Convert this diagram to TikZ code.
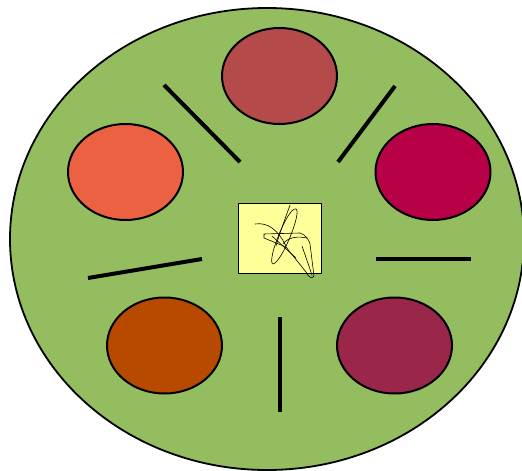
\documentclass[tikz,border=0pt]{standalone}
\usetikzlibrary{shapes.geometric}
\definecolor{bgGreen}{HTML}{93BD5F}
\definecolor{cTop}{HTML}{B54A4A}
\definecolor{cLeft}{HTML}{EC6142}
\definecolor{cRight}{HTML}{B70046}
\definecolor{cBL}{HTML}{B84A00}
\definecolor{cBR}{HTML}{9A264A}
\definecolor{padYellow}{HTML}{FFFF99}
\tikzset{
  petal/.style={ellipse, draw=black, line width=2pt, minimum width=115pt, minimum height=96pt, inner sep=0pt},
  spoke/.style={line width=4pt, black},
  scrib/.style={line width=0.6pt, black}
}
\begin{document}
\begin{tikzpicture}[x=1pt,y=-1pt]
\useasboundingbox (0,0) rectangle (522,471);
\node[ellipse, draw=black, line width=1.8pt, fill=bgGreen, minimum width=514pt, minimum height=462pt, inner sep=0pt] (plate) at (267,239) {};
\node[petal, fill=cTop] (top) at (279.5,76) {};
\node[petal, fill=cLeft] (left) at (125.5,172) {};
\node[petal, fill=cRight] (right) at (433,172) {};
\node[petal, fill=cBL] (bl) at (164.5,345.5) {};
\node[petal, fill=cBR] (br) at (394.5,345.5) {};
\draw[spoke] (164,85) -- (240,162);
\draw[spoke] (395,86) -- (338,162);
\draw[spoke] (88,278) -- (202,259);
\draw[spoke] (376,259) -- (471,259);
\draw[spoke] (280,317) -- (280,412);
\node[draw=black, line width=0.8pt, fill=padYellow, minimum width=83pt, minimum height=70pt, inner sep=0pt] (pad) at (279.5,238) {};
\draw[scrib] (255,224) .. controls (268,222) and (278,230) .. (286,246);
\draw[scrib] (296,209) .. controls (302,212) and (282,262) .. (273,264) .. controls (266,262) and (288,206) .. (296,209);
\draw[scrib] (290,205) .. controls (284,222) and (280,232) .. (276,246);
\draw[scrib] (264,234) -- (300,233) .. controls (306,235) and (309,240) .. (310,244) -- (314,276) .. controls (312,279) and (309,278) .. (306,272) -- (286,247) -- (264,238) -- cycle;
\draw[scrib] (302,246) -- (312,275);
\draw[scrib] (272,236) -- (296,258);
\draw[scrib] (283,244) .. controls (288,237) and (298,236) .. (307,238);
\end{tikzpicture}
\end{document}
